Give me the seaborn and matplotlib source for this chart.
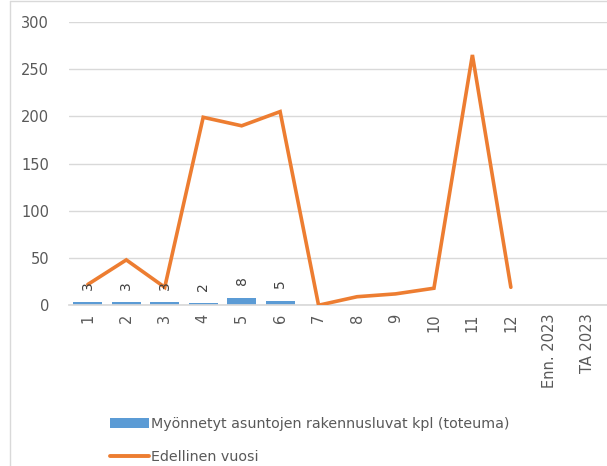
import matplotlib
matplotlib.use("Agg")
import matplotlib.pyplot as plt
import seaborn as sns
import pandas as pd
import numpy as np
from matplotlib.lines import Line2D
from matplotlib.patches import Patch

categories = ["1", "2", "3", "4", "5", "6", "7", "8", "9", "10", "11", "12", "Enn. 2023", "TA 2023"]
bar_values = [3, 3, 3, 2, 8, 5, None, None, None, None, None, None, None, None]
line_values = [22, 48, 19, 199, 190, 205, 0, 9, 12, 18, 265, 19, None, None]
bar_label = "Myönnetyt asuntojen rakennusluvat kpl (toteuma)"
line_label = "Edellinen vuosi"

blue = "#5B9BD5"
orange = "#ED7D31"
txt = "#595959"

sns.set_theme(style="white")
plt.rcParams["font.family"] = ["DejaVu Sans"]

df = pd.DataFrame({"cat": categories,
                   "bar": [np.nan if v is None else v for v in bar_values],
                   "line": [np.nan if v is None else v for v in line_values]})

fig = plt.figure(figsize=(6.07, 4.66), dpi=100)
ax = fig.add_axes([0.113, 0.345, 0.887, 0.608])

sns.barplot(data=df, x="cat", y="bar", color=blue, width=0.75, ax=ax,
            saturation=1, linewidth=0, edgecolor="none")
xs = np.arange(len(categories))
ax.plot(xs, df["line"].values, color=orange, lw=2.6, solid_joinstyle="miter", zorder=3)

for i, v in enumerate(df["bar"].values):
    if not np.isnan(v):
        ax.text(i, v + 18, f"{int(v)}", rotation=90, ha="center", va="center",
                fontsize=10, color="#404040", zorder=4)

ax.set_ylim(0, 300)
ax.set_yticks(range(0, 301, 50))
ax.set_xlim(-0.5, len(categories) - 0.5)
ax.yaxis.grid(True, color="#D9D9D9", lw=1)
ax.set_axisbelow(True)
for s in ax.spines.values():
    s.set_visible(False)
ax.spines["bottom"].set_visible(True)
ax.spines["bottom"].set_color("#D9D9D9")
ax.tick_params(axis="y", length=0, labelsize=10.5, labelcolor=txt, pad=14)
ax.tick_params(axis="x", length=0, labelsize=10.5, labelcolor=txt, pad=6)
ax.set_xticks(xs)
ax.set_xticklabels(categories, rotation=90)
ax.set_xlabel("")
ax.set_ylabel("")

handles = [Patch(facecolor=blue, edgecolor="none"),
           Line2D([0], [0], color=orange, lw=2.8)]
fig.legend(handles, [bar_label, line_label], loc="upper left",
           bbox_to_anchor=(0.17, 0.12), frameon=False, fontsize=10.3,
           labelcolor=txt, handlelength=2.7, handletextpad=0.15,
           labelspacing=1.3, borderpad=0)

fig.add_artist(Line2D([0.016, 0.016], [0, 0.998], transform=fig.transFigure, color="#D9D9D9", lw=1))
fig.add_artist(Line2D([0.016, 1], [0.998, 0.998], transform=fig.transFigure, color="#D9D9D9", lw=1))

fig.savefig("out.png", dpi=100)
